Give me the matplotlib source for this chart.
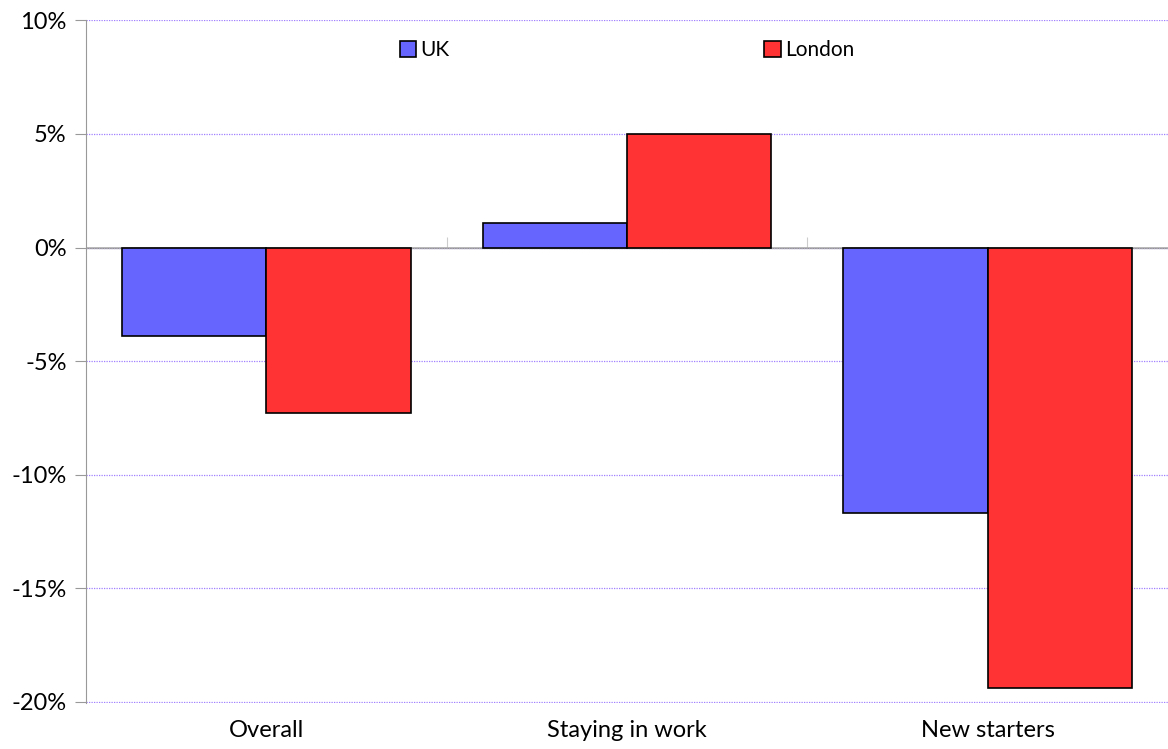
import numpy as np
import matplotlib.pyplot as plt
from matplotlib.ticker import FuncFormatter

plt.rcParams['font.family'] = ['Lato', 'DejaVu Sans']

categories = ["Overall", "Staying in work", "New starters"]
uk = [-3.9, 1.1, -11.7]
london = [-7.3, 5.0, -19.4]

fig = plt.figure(figsize=(11.68, 7.49), dpi=100)
ax = fig.add_axes([0.0736, 0.0614, 0.9264, 0.9119])

x = np.arange(len(categories))
w = 0.4
ax.bar(x - w/2, uk, w, color="#6666ff", edgecolor="black", linewidth=1.2, label="UK", zorder=3)
ax.bar(x + w/2, london, w, color="#ff3333", edgecolor="black", linewidth=1.2, label="London", zorder=3)

ax.set_xlim(-0.5, 2.5)
ax.set_ylim(-20.06, 10.02)
ax.set_yticks(np.arange(-20, 11, 5))
ax.yaxis.set_major_formatter(FuncFormatter(lambda v, p: "%d%%" % v))
ax.grid(axis="y", color="#a080ff", linestyle=(0, (1, 1)), linewidth=0.9, zorder=0)
ax.axhline(0, color="#b0b0b0", linewidth=1.2, zorder=2)

for s in ["top", "right", "bottom"]:
    ax.spines[s].set_visible(False)
ax.spines["left"].set_color("#999999")
ax.tick_params(axis="y", length=8, color="#999999", labelsize=17, pad=6)
ax.set_xticks(x, categories)
ax.tick_params(axis="x", length=0, labelsize=17, pad=12)

# tick marks on the zero line between categories
sec = ax.secondary_xaxis(20.06 / 30.08)
sec.set_xticks([0.5, 1.5], ["", ""])
sec.tick_params(length=8, color="#cccccc")
sec.spines["bottom"].set_visible(False)

ax.legend(loc="upper center", bbox_to_anchor=(0.5, 0.998), ncol=2, frameon=False,
          fontsize=15, handlelength=0.8, handleheight=0.8, handletextpad=0.2,
          columnspacing=15.1)

fig.savefig("out.png", dpi=100)
